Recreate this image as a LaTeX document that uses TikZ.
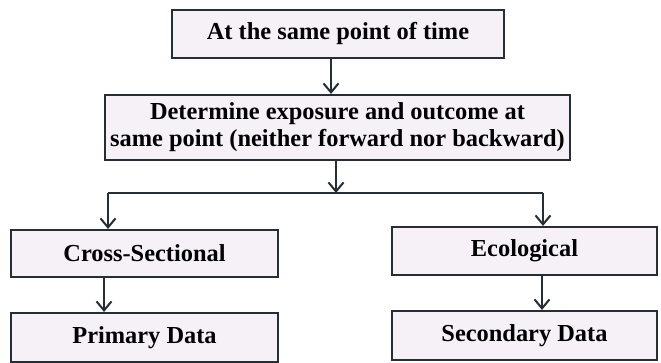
\documentclass[tikz,border=0pt]{standalone}
\usepackage{fontspec}
\setmainfont{Liberation Serif}
\usetikzlibrary{arrows.meta}
\definecolor{edge}{RGB}{36,46,52}
\definecolor{boxfill}{RGB}{245,241,247}
\begin{document}
\begin{tikzpicture}[x=1pt,y=1pt,
  box/.style={draw=edge, fill=boxfill, line width=2.1pt, inner sep=0pt,
    align=center, text=black,
    font=\bfseries\fontsize{24.4}{27}\selectfont},
  link/.style={draw=edge, line width=2pt},
  arr/.style={link, -{Straight Barb[length=9pt,width=15pt,line width=2pt]}}]
\useasboundingbox (0,0) rectangle (661,-363);
\fill[white] (0,0) rectangle (661,-363);

% boxes
\node[box, minimum width=332, minimum height=48] (top) at (338,-34) {At the same point of time};
\node[box, minimum width=465, minimum height=65] (mid) at (337.5,-127.5)
  {Determine exposure and outcome at\\same point (neither forward nor backward)};
\node[box, minimum width=267, minimum height=47] (cs) at (144.5,-253.5) {Cross-Sectional};
\node[box, minimum width=267, minimum height=49] (pd) at (144.5,-337.5) {Primary Data};
\node[box, minimum width=265, minimum height=48] (eco) at (524.5,-251) {Ecological};
\node[box, minimum width=265, minimum height=49] (sd) at (524.5,-335.5) {Secondary Data};

% connector columns
\coordinate (colA) at (331,0);
\coordinate (split) at (336,-193);
\coordinate (bl) at (108,-193);
\coordinate (br) at (543,-193);
\coordinate (colL) at (104,0);
\coordinate (colR) at (542,0);

% connectors
\draw[arr] (top.south -| colA) -- (mid.north -| colA);
\draw[arr] (mid.south -| split) -- (split);
\draw[link] (bl) -- (br);
\draw[arr] (bl) -- (bl |- cs.north);
\draw[arr] (br) -- (br |- eco.north);
\draw[arr] (cs.south -| colL) -- (pd.north -| colL);
\draw[arr] (eco.south -| colR) -- (sd.north -| colR);
\end{tikzpicture}
\end{document}
